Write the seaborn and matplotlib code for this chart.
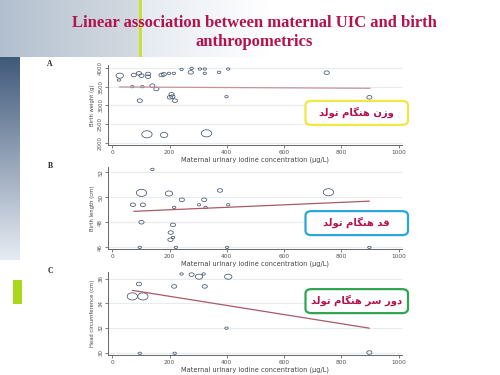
import numpy as np
import pandas as pd
import seaborn as sns
import matplotlib
matplotlib.use("Agg")
import matplotlib.pyplot as plt
from matplotlib.path import Path
from matplotlib.patches import FancyBboxPatch

# ---------------- data ----------------
xA = [26, 23, 75, 93, 102, 125, 125, 70, 105, 140, 154, 172, 180, 198, 215, 242, 277, 274, 306, 323,
      323, 373, 405, 96, 207, 210, 201, 219, 399, 749, 898, 121, 181, 329]
yA = [3789, 3674, 3806, 3850, 3789, 3833, 3762, 3498, 3498, 3524, 3436, 3806, 3824, 3850, 3850, 3956,
      3982, 3877, 3965, 3965, 3850, 3877, 3965, 3128, 3295, 3233, 3216, 3128, 3233, 3868, 3216, 2238,
      2220, 2264]
wA = [3, 1, 2, 2, 2, 2, 2, 1, 1, 2, 2, 2, 2, 1, 1, 1, 1, 2, 1, 1,
      1, 1, 1, 2, 2, 2, 2, 2, 1, 2, 2, 4, 3, 4]
fitA_x = [25, 900]
fitA_y = [3490, 3455]

xB = [140, 102, 198, 376, 755, 72, 107, 243, 321, 303, 216, 326, 405, 102, 212, 204, 212, 203, 96, 222, 401, 898]
yB = [52.21, 50.34, 50.29, 50.53, 50.39, 49.39, 49.39, 49.79, 49.79, 49.39, 49.18, 49.18, 49.39, 48.0,
      47.79, 47.18, 46.79, 46.61, 46.0, 46.0, 46.0, 46.0]
wB = [1, 4, 3, 2, 4, 2, 2, 2, 2, 1, 1, 1, 1, 2, 2, 2, 1, 2, 1, 1, 1, 1]
fitB_x = [75, 898]
fitB_y = [48.87, 49.68]

xC = [93, 242, 277, 303, 319, 405, 216, 323, 70, 107, 399, 96, 218, 898]
yC = [35.57, 36.38, 36.33, 36.16, 36.38, 36.16, 35.37, 35.37, 34.56, 34.56, 31.98, 29.94, 29.94, 30.0]
wC = [2, 1, 2, 3, 1, 3, 2, 2, 4, 4, 1, 1, 1, 2]
fitC_x = [70, 898]
fitC_y = [35.05, 31.98]

x_ticks = [0, 200, 400, 600, 800, 1000]
yticksA = [2000, 2500, 3000, 3500, 4000]
yticksB = [46, 48, 50, 52]
yticksC = [30, 32, 34, 36]

title = "Linear association between maternal UIC and birth\nanthropometrics"
panel_letters = ["A", "B", "C"]
ylabels = ["Birth weight (g)", "Birth length (cm)", "Head circumference (cm)"]
xlabel = "Maternal urinary iodine concentration (\u00b5g/L)"
box_texts = ["وزن هنگام تولد", "قد هنگام تولد", "دور سر هنگام تولد"]
box_colors = ["#f2e640", "#2aa6dc", "#2fa552"]

# ---------------- minimal Arabic/Persian shaping ----------------
FORMS = {
    'ا': ('\uFE8D', '\uFE8E', None, None),
    'د': ('\uFEA9', '\uFEAA', None, None),
    'ر': ('\uFEAD', '\uFEAE', None, None),
    'ز': ('\uFEAF', '\uFEB0', None, None),
    'و': ('\uFEED', '\uFEEE', None, None),
    'س': ('\uFEB1', '\uFEB2', '\uFEB3', '\uFEB4'),
    'ق': ('\uFED5', '\uFED6', '\uFED7', '\uFED8'),
    'ل': ('\uFEDD', '\uFEDE', '\uFEDF', '\uFEE0'),
    'م': ('\uFEE1', '\uFEE2', '\uFEE3', '\uFEE4'),
    'ن': ('\uFEE5', '\uFEE6', '\uFEE7', '\uFEE8'),
    'ه': ('\uFEE9', '\uFEEA', '\uFEEB', '\uFEEC'),
    'ت': ('\uFE95', '\uFE96', '\uFE97', '\uFE98'),
    'گ': ('\uFB92', '\uFB93', '\uFB94', '\uFB95'),
}


def shape_rtl(s):
    out = []
    for i, ch in enumerate(s):
        if ch not in FORMS:
            out.append(ch)
            continue
        prev = s[i - 1] if i > 0 else None
        nxt = s[i + 1] if i + 1 < len(s) else None
        jp = prev in FORMS and FORMS[prev][2] is not None
        jn = FORMS[ch][2] is not None and nxt in FORMS
        iso, fin, ini, med = FORMS[ch]
        if jp and jn:
            out.append(med)
        elif jp:
            out.append(fin)
        elif jn:
            out.append(ini)
        else:
            out.append(iso)
    return "".join(out)[::-1]


# ---------------- figure ----------------
sns.set_theme(style="white")
plt.rcParams['font.family'] = ['DejaVu Sans']
fig = plt.figure(figsize=(5, 3.75), dpi=100)

# slide background decoration
H, W = 375, 500
bg = np.ones((H, W, 3))
yy, xx = np.mgrid[0:H, 0:W]
top = yy < 57
t = np.clip(xx / 270.0, 0, 1) ** 0.8
base = np.array([0.74, 0.80, 0.87])
for c in range(3):
    bg[..., c] = np.where(top, base[c] * (1 - t) + 1.0 * t, bg[..., c])
dark = (xx < 140) & top
bg[dark] = bg[dark] * 0.93
strip = (xx < 20) & (yy >= 57) & (yy < 260)
s = np.clip((yy - 57) / 200.0, 0, 1)
dcol = np.array([0.25, 0.35, 0.48])
lcol = np.array([0.90, 0.92, 0.95])
for c in range(3):
    bg[..., c] = np.where(strip, dcol[c] * (1 - s) + lcol[c] * s, bg[..., c])
bg[(xx >= 139) & (xx <= 141) & top] = [0.80, 0.88, 0.20]
bg[(xx >= 13) & (xx <= 21) & (yy >= 280) & (yy <= 303)] = [0.66, 0.85, 0.10]
bax = fig.add_axes([0, 0, 1, 1])
bax.imshow(bg, aspect="auto", extent=[0, 1, 0, 1])
bax.set_axis_off()

fig.text(0.508, 0.913, title, ha="center", va="center", color="#b3124e",
         fontsize=12, fontweight="bold", family="Liberation Serif", linespacing=1.2)

# ellipse marker (original image horizontally stretched)
theta = np.linspace(0, 2 * np.pi, 60)
ell = Path(np.column_stack([1.45 * np.cos(theta), np.sin(theta)]), closed=True)

panels = [
    (xA, yA, wA, fitA_x, fitA_y, yticksA, (1955, 4070), [0.216, 0.6133, 0.588, 0.2133], "#c3959b"),
    (xB, yB, wB, fitB_x, fitB_y, yticksB, (45.87, 52.4), [0.216, 0.336, 0.588, 0.2187], "#a85a68"),
    (xC, yC, wC, fitC_x, fitC_y, yticksC, (29.8, 36.54), [0.216, 0.0533, 0.588, 0.2213], "#a85a68"),
]
size_map = {1: 6, 2: 14, 3: 28, 4: 55}
box_y = [0.667, 0.373, 0.165]
letter_y = [0.829, 0.557, 0.277]

for i, (xs, ys, ws, fx, fy, yt, ylim, rect, lc) in enumerate(panels):
    ax = fig.add_axes(rect)
    ax.set_facecolor("white")
    df = pd.DataFrame({"x": xs, "y": ys, "w": ws})
    sns.scatterplot(data=df, x="x", y="y", size="w", sizes=size_map, marker=ell,
                    facecolors="none", edgecolor="#44566c", linewidth=0.55,
                    legend=False, ax=ax)
    fit_df = pd.DataFrame({"x": fx, "y": fy})
    sns.lineplot(data=fit_df, x="x", y="y", color=lc, linewidth=0.9, ax=ax)
    ax.set_xlim(-15, 1012)
    ax.set_ylim(*ylim)
    ax.set_xticks(x_ticks)
    ax.set_yticks(yt)
    ax.set_xticklabels([str(v) for v in x_ticks], fontsize=4.2, color="#555555")
    ax.set_yticklabels([str(v) for v in yt], fontsize=4.0, color="#555555", rotation=90, va="center")
    ax.grid(axis="y", color="#e6ecef", linewidth=0.8)
    ax.set_axisbelow(True)
    for sp in ["top", "right"]:
        ax.spines[sp].set_visible(False)
    for sp in ["left", "bottom"]:
        ax.spines[sp].set_color("#666666")
        ax.spines[sp].set_linewidth(0.7)
    ax.tick_params(axis="both", length=2, width=0.6, color="#666666", pad=1.5, left=True, bottom=True)
    ax.set_xlabel(xlabel, fontsize=4.8, color="#444444", labelpad=1)
    ax.set_ylabel(ylabels[i], fontsize=3.8, color="#444444", labelpad=2)

    fig.text(0.10, letter_y[i], panel_letters[i], fontsize=5.5, fontweight="bold",
             family="Liberation Serif", color="#222222", ha="center", va="center")

    box = FancyBboxPatch((0.611, box_y[i]), 0.205, 0.064, transform=fig.transFigure,
                         boxstyle="round,pad=0,rounding_size=0.012",
                         facecolor="white", edgecolor=box_colors[i], linewidth=1.6, zorder=5)
    fig.patches.append(box)
    fig.text(0.7135, box_y[i] + 0.033, shape_rtl(box_texts[i]), fontsize=7.2, fontweight="bold",
             color="#b3124e", ha="center", va="center", zorder=6)

fig.savefig("out.png", dpi=100)
